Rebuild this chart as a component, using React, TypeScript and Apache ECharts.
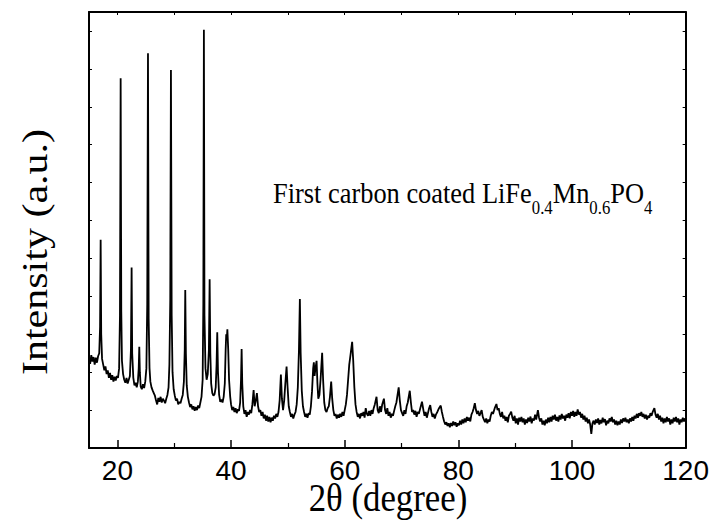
import React, { useEffect, useRef } from "react";
import * as echarts from "echarts";

// XRD pattern: [2θ (degree), intensity (a.u.)]
const seg15to30: number[][] = [
  [15.0, 2.35], [15.2, 2.22], [15.4, 2.45], [15.6, 2.28], [15.8, 2.4], [16.0, 2.2], [16.2, 2.38], [16.4, 2.25],
  [16.6, 2.42], [16.8, 2.5], [16.95, 3.2], [17.05, 5.49], [17.15, 3.0], [17.3, 2.35], [17.5, 2.2], [17.7, 2.05],
  [17.9, 2.15], [18.1, 1.95], [18.3, 2.05], [18.5, 1.85], [18.7, 1.98], [18.9, 1.8], [19.1, 1.92], [19.3, 1.75],
  [19.5, 1.88], [19.7, 1.78], [19.9, 1.9], [20.1, 1.85], [20.3, 2.1], [20.45, 3.5], [20.57, 9.75], [20.68, 3.6],
  [20.8, 2.3], [21.0, 1.95], [21.2, 1.8], [21.4, 1.72], [21.6, 1.85], [21.8, 1.7], [22.0, 1.8], [22.2, 1.9],
  [22.38, 2.6], [22.5, 4.76], [22.6, 2.5], [22.8, 1.85], [23.0, 1.65], [23.2, 1.72], [23.4, 1.6], [23.6, 1.75],
  [23.75, 2.1], [23.85, 2.67], [23.95, 2.0], [24.1, 1.62], [24.3, 1.55], [24.5, 1.68], [24.7, 1.58], [24.9, 1.75],
  [25.1, 2.1], [25.25, 3.8], [25.38, 10.41], [25.5, 3.4], [25.65, 2.1], [25.8, 1.75], [26.0, 1.6], [26.2, 1.52],
  [26.4, 1.45], [26.6, 1.38], [26.8, 1.25], [27.0, 1.15], [27.2, 1.32], [27.4, 1.22], [27.6, 1.35], [27.8, 1.2],
  [28.0, 1.3], [28.2, 1.25], [28.4, 1.18], [28.6, 1.3], [28.8, 1.4], [29.0, 1.6], [29.15, 2.2], [29.3, 3.9],
  [29.42, 9.97], [29.55, 3.5], [29.7, 2.0], [29.9, 1.55],
];
const seg30to45: number[][] = [
  [30.1, 1.38], [30.3, 1.25], [30.5, 1.3], [30.7, 1.15], [30.9, 1.22], [31.1, 1.18], [31.3, 1.3], [31.5, 1.4],
  [31.7, 1.75], [31.85, 2.6], [31.94, 4.17], [32.05, 2.5], [32.2, 1.65], [32.4, 1.35], [32.6, 1.2], [32.8, 1.08],
  [33.0, 1.15], [33.2, 1.02], [33.4, 1.1], [33.6, 0.98], [33.8, 1.08], [34.0, 1.0], [34.2, 1.12], [34.4, 1.05],
  [34.6, 1.2], [34.8, 1.35], [35.0, 1.8], [35.12, 3.8], [35.22, 11.03], [35.32, 3.5], [35.5, 2.1], [35.7, 1.8],
  [35.9, 1.95], [36.1, 2.6], [36.23, 4.45], [36.35, 2.5], [36.5, 1.7], [36.7, 1.45], [36.9, 1.38], [37.1, 1.42],
  [37.3, 1.6], [37.45, 2.2], [37.57, 3.05], [37.7, 2.0], [37.9, 1.4], [38.1, 1.22], [38.3, 1.28], [38.5, 1.2],
  [38.7, 1.35], [38.9, 1.7], [39.05, 2.6], [39.15, 3.0], [39.25, 2.85], [39.35, 3.13], [39.5, 2.6], [39.65, 1.8],
  [39.85, 1.35], [40.0, 1.15], [40.2, 1.0], [40.4, 1.08], [40.6, 0.95], [40.8, 1.05], [41.0, 0.92], [41.2, 1.02],
  [41.4, 0.98], [41.6, 1.2], [41.75, 1.8], [41.86, 2.61], [41.97, 1.7], [42.15, 1.1], [42.35, 0.9], [42.55, 1.0],
  [42.75, 0.82], [42.95, 0.95], [43.15, 0.88], [43.35, 1.0], [43.55, 0.92], [43.75, 1.15], [43.97, 1.53],
  [44.15, 1.1], [44.35, 1.25], [44.55, 1.45], [44.75, 1.1], [44.95, 0.95],
];
const seg45to65: number[][] = [
  [45.15, 1.0], [45.35, 0.85], [45.55, 0.95], [45.75, 0.78], [45.95, 0.88], [46.15, 0.72], [46.35, 0.85],
  [46.55, 0.7], [46.75, 0.82], [46.95, 0.68], [47.15, 0.8], [47.35, 0.72], [47.55, 0.85], [47.75, 0.78],
  [47.95, 0.9], [48.15, 0.82], [48.35, 0.95], [48.55, 1.25], [48.77, 1.94], [48.95, 1.3], [49.15, 1.0],
  [49.35, 1.25], [49.55, 1.7], [49.77, 2.15], [49.95, 1.6], [50.15, 1.1], [50.35, 0.95], [50.55, 0.82],
  [50.75, 0.9], [50.95, 0.78], [51.15, 0.88], [51.35, 0.95], [51.55, 1.15], [51.75, 1.6], [51.95, 2.6],
  [52.11, 3.93], [52.25, 2.5], [52.45, 1.5], [52.65, 1.1], [52.85, 0.95], [53.05, 0.82], [53.25, 0.9],
  [53.45, 0.8], [53.65, 0.92], [53.85, 0.88], [54.05, 1.1], [54.25, 1.5], [54.45, 2.1], [54.57, 2.26],
  [54.7, 1.9], [54.85, 2.1], [55.05, 2.3], [55.2, 1.7], [55.35, 1.3], [55.55, 1.4], [55.75, 1.8], [56.03, 2.51],
  [56.2, 1.8], [56.4, 1.2], [56.6, 1.0], [56.8, 0.95], [57.0, 1.05], [57.2, 1.1], [57.4, 1.35], [57.62, 1.75],
  [57.8, 1.3], [58.0, 1.0], [58.2, 0.85], [58.4, 0.9], [58.6, 0.78], [58.8, 0.88], [59.0, 0.8], [59.2, 0.9],
  [59.4, 0.82], [59.6, 0.95], [59.8, 0.85], [60.0, 1.0], [60.2, 1.15], [60.4, 1.4], [60.6, 1.8], [60.8, 2.2],
  [60.95, 2.37], [61.1, 2.55], [61.31, 2.8], [61.5, 2.3], [61.7, 1.6], [61.9, 1.15], [62.1, 0.95], [62.3, 0.82],
  [62.5, 0.9], [62.7, 0.78], [62.9, 0.92], [63.1, 0.85], [63.3, 0.95], [63.5, 0.8], [63.7, 1.05], [63.9, 0.9],
  [64.1, 0.85], [64.3, 0.98], [64.5, 0.85], [64.7, 1.0], [64.9, 0.9],
];
const seg65to90: number[][] = [
  [65.1, 1.05], [65.3, 1.15], [65.6, 1.35], [65.8, 1.0], [66.0, 0.92], [66.2, 1.1], [66.4, 0.95], [66.6, 1.15],
  [66.9, 1.3], [67.1, 1.0], [67.3, 0.9], [67.5, 1.05], [67.7, 0.85], [67.9, 0.95], [68.1, 0.8], [68.3, 0.9],
  [68.5, 0.85], [68.7, 0.98], [68.9, 1.1], [69.1, 1.2], [69.3, 1.4], [69.5, 1.6], [69.7, 1.25], [69.9, 1.0],
  [70.1, 0.92], [70.3, 0.85], [70.5, 1.0], [70.7, 0.9], [70.9, 1.1], [71.1, 1.2], [71.45, 1.51], [71.65, 1.2],
  [71.85, 0.95], [72.05, 1.0], [72.25, 0.88], [72.45, 0.98], [72.65, 0.82], [72.85, 0.95], [73.05, 0.9],
  [73.3, 1.05], [73.6, 1.22], [73.85, 1.0], [74.05, 0.85], [74.25, 0.95], [74.45, 0.8], [74.65, 0.92],
  [74.85, 1.05], [75.05, 1.13], [75.25, 0.95], [75.45, 0.82], [75.65, 0.9], [75.85, 0.78], [76.05, 0.88],
  [76.3, 0.95], [76.6, 1.05], [76.9, 1.12], [77.1, 0.95], [77.3, 0.82], [77.5, 0.7], [77.7, 0.62], [77.9, 0.68],
  [78.1, 0.58], [78.3, 0.65], [78.5, 0.55], [78.7, 0.66], [78.9, 0.58], [79.1, 0.7], [79.3, 0.6], [79.5, 0.68],
  [79.7, 0.56], [79.9, 0.65], [80.1, 0.6], [80.3, 0.72], [80.5, 0.62], [80.7, 0.75], [80.9, 0.65], [81.1, 0.78],
  [81.3, 0.68], [81.5, 0.82], [81.7, 0.72], [81.9, 0.8], [82.1, 0.7], [82.3, 0.88], [82.5, 0.95], [82.7, 1.05],
  [82.9, 1.18], [83.1, 1.0], [83.3, 0.9], [83.5, 0.98], [83.7, 0.85], [83.9, 0.92], [84.1, 1.0], [84.3, 0.82],
  [84.5, 0.75], [84.7, 0.68], [84.9, 0.78], [85.1, 0.65], [85.3, 0.75], [85.5, 0.7], [85.7, 0.85], [85.9, 0.95],
  [86.1, 0.9], [86.4, 1.05], [86.7, 1.16], [86.9, 1.0], [87.1, 1.05], [87.3, 0.9], [87.5, 0.82], [87.7, 0.95],
  [87.9, 0.78], [88.1, 0.85], [88.3, 0.72], [88.5, 0.82], [88.7, 0.68], [88.9, 0.85], [89.1, 0.9], [89.3, 0.96],
  [89.5, 0.8], [89.7, 0.72], [89.9, 0.85],
];
const seg90to120: number[][] = [
  [90.1, 0.65], [90.3, 0.78], [90.5, 0.62], [90.7, 0.8], [90.9, 0.7], [91.1, 0.82], [91.3, 0.68], [91.5, 0.78],
  [91.7, 0.62], [91.9, 0.75], [92.1, 0.66], [92.3, 0.8], [92.5, 0.7], [92.7, 0.83], [92.9, 0.65], [93.1, 0.78],
  [93.3, 0.72], [93.5, 0.88], [93.7, 0.75], [94.0, 1.0], [94.2, 0.8], [94.4, 0.7], [94.6, 0.78], [94.8, 0.62],
  [95.0, 0.72], [95.2, 0.6], [95.4, 0.75], [95.6, 0.65], [95.8, 0.8], [96.0, 0.68], [96.2, 0.82], [96.4, 0.7],
  [96.6, 0.85], [96.8, 0.75], [97.0, 0.88], [97.2, 0.72], [97.4, 0.82], [97.6, 0.7], [97.8, 0.86], [98.0, 0.75],
  [98.2, 0.9], [98.4, 0.78], [98.6, 0.85], [98.8, 0.72], [99.0, 0.88], [99.2, 0.8], [99.4, 0.92], [99.6, 0.78],
  [99.8, 0.95], [100.0, 0.85], [100.2, 0.98], [100.4, 0.82], [100.6, 0.95], [100.8, 0.85], [101.0, 1.02],
  [101.2, 0.88], [101.4, 0.95], [101.6, 0.8], [101.8, 0.9], [102.0, 0.75], [102.2, 0.85], [102.4, 0.7],
  [102.6, 0.8], [102.8, 0.65], [103.0, 0.75], [103.2, 0.62], [103.4, 0.37], [103.6, 0.65], [103.8, 0.72],
  [104.0, 0.62], [104.2, 0.75], [104.4, 0.66], [104.6, 0.78], [104.8, 0.62], [105.0, 0.74], [105.2, 0.65],
  [105.4, 0.8], [105.6, 0.68], [105.8, 0.76], [106.0, 0.6], [106.2, 0.72], [106.4, 0.65], [106.6, 0.78],
  [106.8, 0.7], [107.0, 0.82], [107.2, 0.68], [107.4, 0.75], [107.6, 0.62], [107.8, 0.72], [108.0, 0.6],
  [108.2, 0.7], [108.4, 0.62], [108.6, 0.75], [108.8, 0.66], [109.0, 0.78], [109.2, 0.7], [109.4, 0.8],
  [109.6, 0.68], [109.8, 0.75], [110.0, 0.65], [110.2, 0.78], [110.4, 0.7], [110.6, 0.82], [110.8, 0.72],
  [111.0, 0.85], [111.2, 0.78], [111.4, 0.9], [111.6, 0.8], [111.8, 0.92], [112.0, 0.85], [112.2, 0.95],
  [112.4, 0.82], [112.6, 0.9], [112.8, 0.78], [113.0, 0.88], [113.2, 0.75], [113.4, 0.85], [113.6, 0.8],
  [113.8, 0.92], [114.0, 0.85], [114.2, 0.95], [114.5, 1.05], [114.7, 0.88], [114.9, 0.8], [115.1, 0.9],
  [115.3, 0.75], [115.5, 0.85], [115.7, 0.7], [115.9, 0.8], [116.1, 0.65], [116.3, 0.78], [116.5, 0.68],
  [116.7, 0.82], [116.9, 0.7], [117.1, 0.78], [117.3, 0.62], [117.5, 0.75], [117.7, 0.65], [117.9, 0.8],
  [118.1, 0.7], [118.3, 0.82], [118.5, 0.68], [118.7, 0.78], [118.9, 0.62], [119.1, 0.75], [119.3, 0.68],
  [119.5, 0.8], [119.7, 0.7], [119.9, 0.78], [120.0, 0.7],
];

const xMajorTicks = [20, 40, 60, 80, 100, 120];
const xMinorTicks = [30, 50, 70, 90, 110];
const xTopTicks = [20, 30, 40, 50, 60, 70, 80, 90, 100, 110];
const xLabel = "2θ (degree)";
const yLabel = "Intensity (a.u.)";

export default function App() {
  const ref = useRef<HTMLDivElement>(null);
  useEffect(() => {
    if (!ref.current) return;
    const chart = echarts.init(ref.current, undefined, { renderer: "svg" });
    const data = [...seg15to30, ...seg30to45, ...seg45to65, ...seg65to90, ...seg90to120];
    const serif = "Liberation Serif";
    const sans = "Liberation Sans";
    const axisLine = { show: true, onZero: false, lineStyle: { color: "#000", width: 2 } };
    chart.setOption({
      animation: false,
      backgroundColor: "#fff",
      grid: { left: 89, top: 12, width: 597, height: 436, containLabel: false },
      xAxis: [
        {
          type: "value", position: "bottom", min: 15, max: 120,
          axisLine,
          axisTick: { show: true, inside: true, length: 8, customValues: xMajorTicks, lineStyle: { color: "#000", width: 1.5 } },
          axisLabel: { show: true, customValues: xMajorTicks, color: "#000", fontFamily: sans, fontSize: 28, margin: 8 },
          splitLine: { show: false },
        },
        {
          type: "value", position: "bottom", min: 15, max: 120,
          axisLine: { show: false },
          axisTick: { show: true, inside: true, length: 5, customValues: xMinorTicks, lineStyle: { color: "#000", width: 1.2 } },
          axisLabel: { show: false },
          splitLine: { show: false },
        },
        {
          type: "value", position: "top", min: 15, max: 120,
          axisLine,
          axisTick: { show: true, inside: true, length: 3, customValues: xTopTicks, lineStyle: { color: "#000", width: 1 } },
          axisLabel: { show: false },
          splitLine: { show: false },
        },
      ],
      yAxis: [
        {
          type: "value", position: "left", min: 0, max: 11.5, interval: 1,
          axisLine,
          axisTick: { show: true, inside: true, length: 3, lineStyle: { color: "#000", width: 1 } },
          axisLabel: { show: false },
          splitLine: { show: false },
        },
        {
          type: "value", position: "right", min: 0, max: 11.5, interval: 1,
          axisLine,
          axisTick: { show: true, inside: true, length: 3, lineStyle: { color: "#000", width: 1 } },
          axisLabel: { show: false },
          splitLine: { show: false },
        },
      ],
      series: [
        {
          type: "line",
          xAxisIndex: 0,
          yAxisIndex: 0,
          data,
          showSymbol: false,
          symbol: "none",
          lineStyle: { color: "#000", width: 1.8 },
          clip: true,
        },
      ],
      graphic: [
        {
          type: "text", x: 34.5, y: 252, rotation: Math.PI / 2, scaleY: 0.87,
          style: { text: yLabel, fill: "#000", fontFamily: serif, fontSize: 42, align: "center", verticalAlign: "middle",
            textAlign: "center", textVerticalAlign: "middle" },
        },
        {
          type: "text", x: 388, y: 498, scaleX: 0.87,
          style: { text: xLabel, fill: "#000", fontFamily: serif, fontSize: 40, align: "center", verticalAlign: "middle",
            textAlign: "center", textVerticalAlign: "middle" },
        },
        {
          type: "text", x: 273, y: 178, scaleX: 0.88,
          style: {
            text: "{m|First carbon coated LiFe}{s|0.4}{m|Mn}{s|0.6}{m|PO}{s|4}",
            fill: "#000", font: "30px 'Liberation Serif', serif", fontFamily: serif, fontSize: 30,
            align: "left", verticalAlign: "top", textAlign: "left", textVerticalAlign: "top",
            rich: {
              m: { font: "30px 'Liberation Serif', serif", fontFamily: serif, fontSize: 30, lineHeight: 30, verticalAlign: "top", fill: "#000" },
              s: { font: "19px 'Liberation Serif', serif", fontFamily: serif, fontSize: 19, padding: [20, 0, 0, 0], verticalAlign: "top", fill: "#000" },
            },
          },
        },
      ],
    });
    return () => chart.dispose();
  }, []);
  return (
    <div
      ref={ref}
      style={{ position: "fixed", left: 0, top: 0, width: 712, height: 524, background: "#fff" }}
    />
  );
}
